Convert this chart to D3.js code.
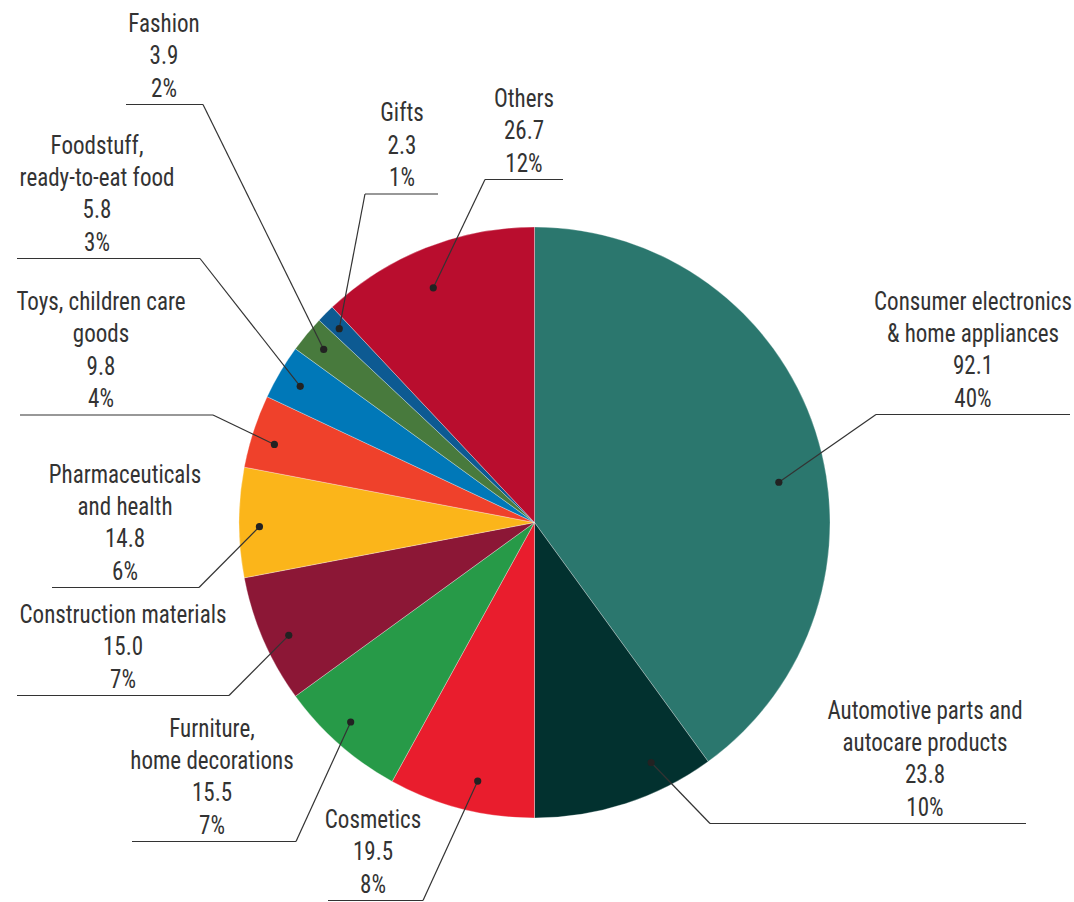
<!DOCTYPE html>
<html>
<head>
<meta charset="utf-8">
<script src="https://cdn.jsdelivr.net/npm/d3@7"></script>
<style>
  html, body { margin: 0; padding: 0; background: #fff; }
  svg { display: block; }
  .lbl { font-family: "Liberation Sans Narrow", "Roboto Condensed", "DejaVu Sans Condensed", "Liberation Sans", sans-serif; font-size: 26px; fill: #333; }
</style>
</head>
<body>
<svg id="chart" width="1074" height="902"></svg>
<script>
// Sales by product category: value and share of total
const categoryLines = [
  ["Consumer electronics", "& home appliances"],
  ["Automotive parts and", "autocare products"],
  ["Cosmetics"],
  ["Furniture,", "home decorations"],
  ["Construction materials"],
  ["Pharmaceuticals", "and health"],
  ["Toys, children care", "goods"],
  ["Foodstuff,", "ready-to-eat food"],
  ["Fashion"],
  ["Gifts"],
  ["Others"]
];
const values = [92.1, 23.8, 19.5, 15.5, 15.0, 14.8, 9.8, 5.8, 3.9, 2.3, 26.7];
const shares = [40, 10, 8, 7, 7, 6, 4, 3, 2, 1, 12];
const colors = ["#2b776e", "#02312f", "#e91d2d", "#279a48", "#8c1736", "#fbb51a",
                "#ef412b", "#0078b8", "#487a3d", "#0d5a92", "#b90d2e"];

// Callout placement: text centre, underline span and height, which end of the
// underline the leader leaves from, and where the dot sits inside its slice
const callouts = [
  { cx: 973, x0: 876, x1: 1070, y: 414.5, end: "left",  frac: 0.56, r: 0.838 },
  { cx: 925, x0: 710, x1: 1026, y: 823.5, end: "left",  frac: 0.28, r: 0.903 },
  { cx: 373, x0: 328, x1: 423,  y: 900.5, end: "right", frac: 0.43, r: 0.896 },
  { cx: 212, x0: 132, x1: 296,  y: 841.5, end: "right", frac: 0.55, r: 0.918 },
  { cx: 123, x0: 17,  x1: 229,  y: 695.5, end: "right", frac: 0.45, r: 0.915 },
  { cx: 125, x0: 52,  x1: 199,  y: 587.5, end: "right", frac: 0.46, r: 0.931 },
  { cx: 101, x0: 20,  x1: 213,  y: 415,   end: "right", frac: 0.41, r: 0.919 },
  { cx: 97,  x0: 17,  x1: 200,  y: 258.5, end: "right", frac: 0.46, r: 0.917 },
  { cx: 164, x0: 126, x1: 203,  y: 104.5, end: "right", frac: 0.47, r: 0.923 },
  { cx: 402, x0: 365, x1: 438,  y: 194,   end: "left",  frac: 0.44, r: 0.931 },
  { cx: 524, x0: 485, x1: 563,  y: 179.5, end: "left",  frac: 0.46, r: 0.865 }
];

const cx = 534.5, cy = 522.5, R = 295.5;
const lineStep = 32.3;
const textSqueeze = 0.885;   // narrow the label face horizontally

const svg = d3.select("#chart");
const fmtValue = d3.format(".1f");

const pie = d3.pie().sort(null).value(d => d)(shares);
const arc = d3.arc().innerRadius(0).outerRadius(R);

const g = svg.append("g").attr("transform", `translate(${cx},${cy})`);
g.selectAll("path.slice")
  .data(pie)
  .join("path")
  .attr("class", "slice")
  .attr("d", arc)
  .attr("fill", (d, i) => colors[i])
  .attr("stroke", "#ffffff")
  .attr("stroke-width", 0.6)
  .attr("stroke-opacity", 0.5);

// dot location for each slice, in page coordinates
function dotPoint(i) {
  const s = pie[i];
  const a = s.startAngle + (s.endAngle - s.startAngle) * callouts[i].frac;
  const rr = R * callouts[i].r;
  return [cx + rr * Math.sin(a), cy - rr * Math.cos(a)];
}

const lab = svg.append("g");
callouts.forEach((c, i) => {
  const [dx, dy] = dotPoint(i);
  const ex = c.end === "left" ? c.x0 : c.x1;

  lab.append("line")
    .attr("x1", c.x0).attr("x2", c.x1)
    .attr("y1", c.y).attr("y2", c.y)
    .attr("stroke", "#333").attr("stroke-width", 1.2);

  lab.append("line")
    .attr("x1", ex).attr("y1", c.y)
    .attr("x2", dx).attr("y2", dy)
    .attr("stroke", "#333").attr("stroke-width", 1.2);

  lab.append("circle")
    .attr("cx", dx).attr("cy", dy).attr("r", 3.6)
    .attr("fill", "#222");

  const lines = categoryLines[i].concat([fmtValue(values[i]), shares[i] + "%"]);
  const lastBase = c.y - 8;
  lines.forEach((t, k) => {
    const ty = lastBase - (lines.length - 1 - k) * lineStep;
    lab.append("text")
      .attr("class", "lbl")
      .attr("transform", `translate(${c.cx},${ty}) scale(${textSqueeze},1)`)
      .attr("text-anchor", "middle")
      .text(t);
  });
});
</script>
</body>
</html>
